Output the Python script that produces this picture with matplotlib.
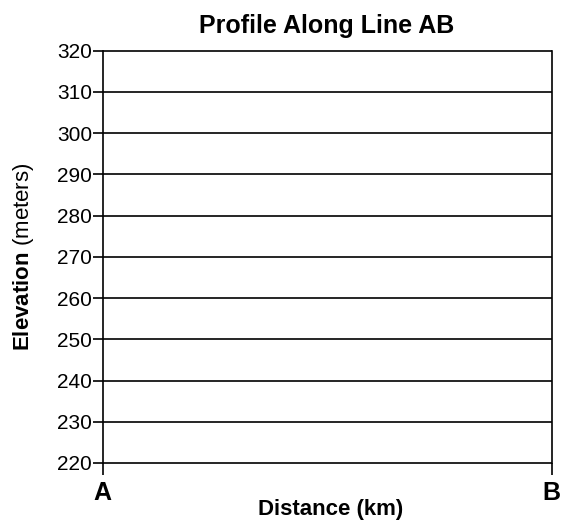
import matplotlib
matplotlib.use("Agg")
import matplotlib.pyplot as plt

plt.rcParams['font.family'] = ['Liberation Sans', 'DejaVu Sans']
plt.rcParams['mathtext.fontset'] = 'custom'
plt.rcParams['mathtext.rm'] = 'Liberation Sans'
plt.rcParams['mathtext.bf'] = 'Liberation Sans:bold'

title = "Profile Along Line AB"
x_label = "Distance (km)"
y_label_bold = "Elevation"
y_label_rest = "(meters)"
x_tick_labels = ["A", "B"]
x_ticks = [0, 1]
y_ticks = [220, 230, 240, 250, 260, 270, 280, 290, 300, 310, 320]

fig = plt.figure(figsize=(5.63, 5.21), dpi=100)
ax = fig.add_axes([102.5 / 563, 1 - 463 / 521, (551.5 - 102.5) / 563, (463 - 50.7) / 521])

ax.set_xlim(0, 1)
ax.set_ylim(min(y_ticks), max(y_ticks))
ax.hlines(y_ticks, 0, 1, colors='black', linewidth=1.2, clip_on=False)

for s in ['top', 'bottom']:
    ax.spines[s].set_visible(False)
for s in ['left', 'right']:
    ax.spines[s].set_linewidth(1.2)

ax.set_yticks(y_ticks)
ax.set_yticklabels([str(v) for v in y_ticks])
ax.tick_params(axis='y', length=7, width=1.2, pad=0.5, labelsize=15)

ax.set_xticks(x_ticks)
ax.set_xticklabels(x_tick_labels, fontweight='bold')
ax.tick_params(axis='x', length=8.6, width=1.2, pad=4, labelsize=18)

ax.set_title(title, fontsize=18, fontweight='bold', pad=13)
ax.set_xlabel(x_label, fontsize=16, fontweight='bold')
ax.xaxis.set_label_coords(0.507, -0.087)
ax.set_ylabel(r"$\bf{" + y_label_bold + "}$ " + y_label_rest, fontsize=16)
ax.yaxis.set_label_coords(-0.148, 0.5)

fig.savefig("out.png", dpi=100, facecolor='white')
